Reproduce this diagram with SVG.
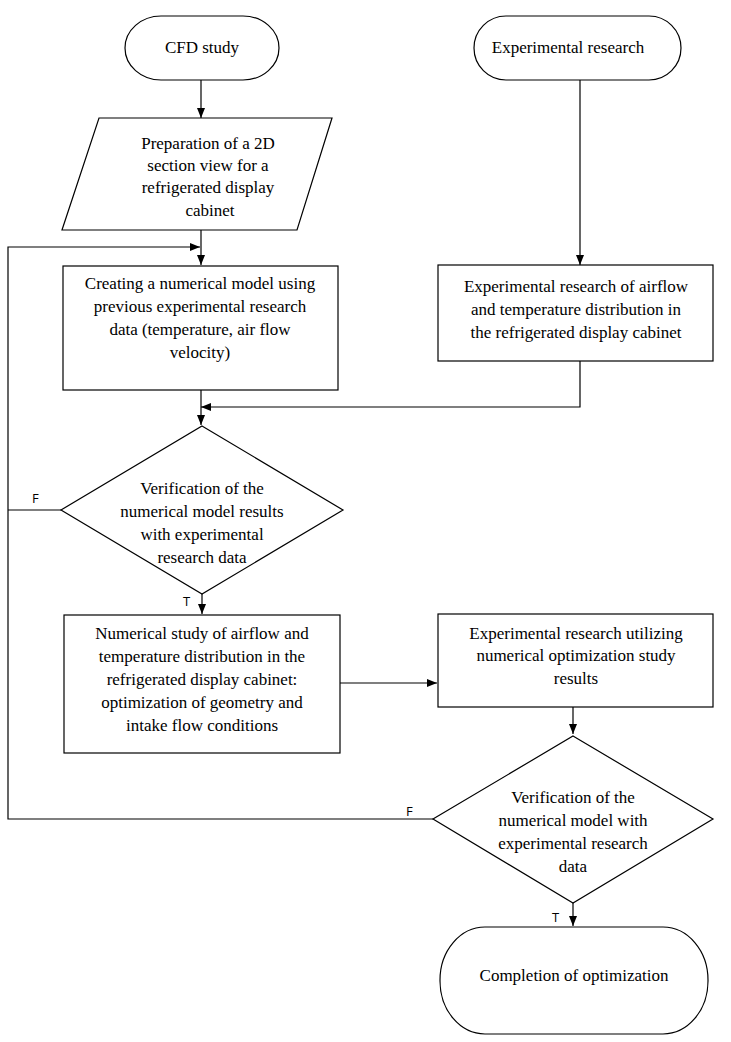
<svg xmlns="http://www.w3.org/2000/svg" width="731" height="1042" viewBox="0 0 731 1042">
<defs>
<marker id="arr" markerWidth="10" markerHeight="8" refX="10" refY="4" orient="auto" markerUnits="userSpaceOnUse">
<path d="M0,0 L10,4 L0,8 Z" fill="#000"/>
</marker>
<style>
.shape{fill:#fff;stroke:#000;stroke-width:1.2}
.t{font-family:"Liberation Serif","Times New Roman",serif;font-size:17px;fill:#000;text-anchor:middle}
.lbl{font-family:"Open Sans","Liberation Sans",sans-serif;font-size:13px;fill:#000}
.c{fill:none;stroke:#000;stroke-width:1.2}
</style>
</defs>
<rect width="731" height="1042" fill="#fff"/>
<g id="connectors">
<path class="c" d="M201,80 V118" marker-end="url(#arr)"/>
<path class="c" d="M201,230 V265" marker-end="url(#arr)"/>
<path class="c" d="M8,510 V247 H200" marker-end="url(#arr)"/>
<path class="c" d="M61,510 H8"/>
<path class="c" d="M580,80 V265" marker-end="url(#arr)"/>
<path class="c" d="M201,390 V425" marker-end="url(#arr)"/>
<path class="c" d="M580,361 V407 H201" marker-end="url(#arr)"/>
<path class="c" d="M202,594 V614" marker-end="url(#arr)"/>
<path class="c" d="M340,683 H437" marker-end="url(#arr)"/>
<path class="c" d="M573,707 V734" marker-end="url(#arr)"/>
<path class="c" d="M433,819 H8 V510"/>
<path class="c" d="M573,903 V926" marker-end="url(#arr)"/>
<text class="lbl" x="32" y="503">F</text>
<text class="lbl" x="183" y="606">T</text>
<text class="lbl" x="406" y="816">F</text>
<text class="lbl" x="552" y="922">T</text>
</g>
<g id="cfd">
<rect class="shape" x="125" y="16" width="154" height="64" rx="36" ry="32"/>
<text class="t" x="202" y="53">CFD study</text>
</g>
<g id="exp">
<rect class="shape" x="474" y="16" width="207" height="64" rx="32" ry="32"/>
<text class="t" x="568" y="53">Experimental research</text>
</g>
<g id="prep">
<polygon class="shape" points="99,118 332,118 297,230 62,230"/>
<text class="t" x="208" y="149">Preparation of a 2D</text>
<text class="t" x="208" y="171">section view for a</text>
<text class="t" x="208" y="193">refrigerated display</text>
<text class="t" x="210" y="216">cabinet</text>
</g>
<g id="create">
<rect class="shape" x="63" y="266" width="275" height="124"/>
<text class="t" x="200" y="289">Creating a numerical model using</text>
<text class="t" x="200" y="312">previous experimental research</text>
<text class="t" x="200" y="335">data (temperature, air flow</text>
<text class="t" x="200" y="358">velocity)</text>
</g>
<g id="expres">
<rect class="shape" x="438" y="265" width="275" height="96"/>
<text class="t" x="576" y="292">Experimental research of airflow</text>
<text class="t" x="576" y="315">and temperature distribution in</text>
<text class="t" x="576" y="338">the refrigerated display cabinet</text>
</g>
<g id="verify1">
<polygon class="shape" points="202,426 343,510 202,594 61,510"/>
<text class="t" x="202" y="494">Verification of the</text>
<text class="t" x="202" y="517">numerical model results</text>
<text class="t" x="202" y="540">with experimental</text>
<text class="t" x="202" y="563">research data</text>
</g>
<g id="numstudy">
<rect class="shape" x="64" y="615" width="276" height="138"/>
<text class="t" x="202" y="639">Numerical study of airflow and</text>
<text class="t" x="202" y="662">temperature distribution in the</text>
<text class="t" x="202" y="685">refrigerated display cabinet:</text>
<text class="t" x="202" y="708">optimization of geometry and</text>
<text class="t" x="202" y="731">intake flow conditions</text>
</g>
<g id="exputil">
<rect class="shape" x="438" y="614" width="275" height="93"/>
<text class="t" x="576" y="639">Experimental research utilizing</text>
<text class="t" x="576" y="661">numerical optimization study</text>
<text class="t" x="576" y="684">results</text>
</g>
<g id="verify2">
<polygon class="shape" points="573,736 713,819 573,903 433,819"/>
<text class="t" x="573" y="803">Verification of the</text>
<text class="t" x="573" y="826">numerical model with</text>
<text class="t" x="573" y="849">experimental research</text>
<text class="t" x="573" y="872">data</text>
</g>
<g id="complete">
<rect class="shape" x="440" y="927" width="268" height="107" rx="45" ry="53"/>
<text class="t" x="574" y="981">Completion of optimization</text>
</g>
</svg>
